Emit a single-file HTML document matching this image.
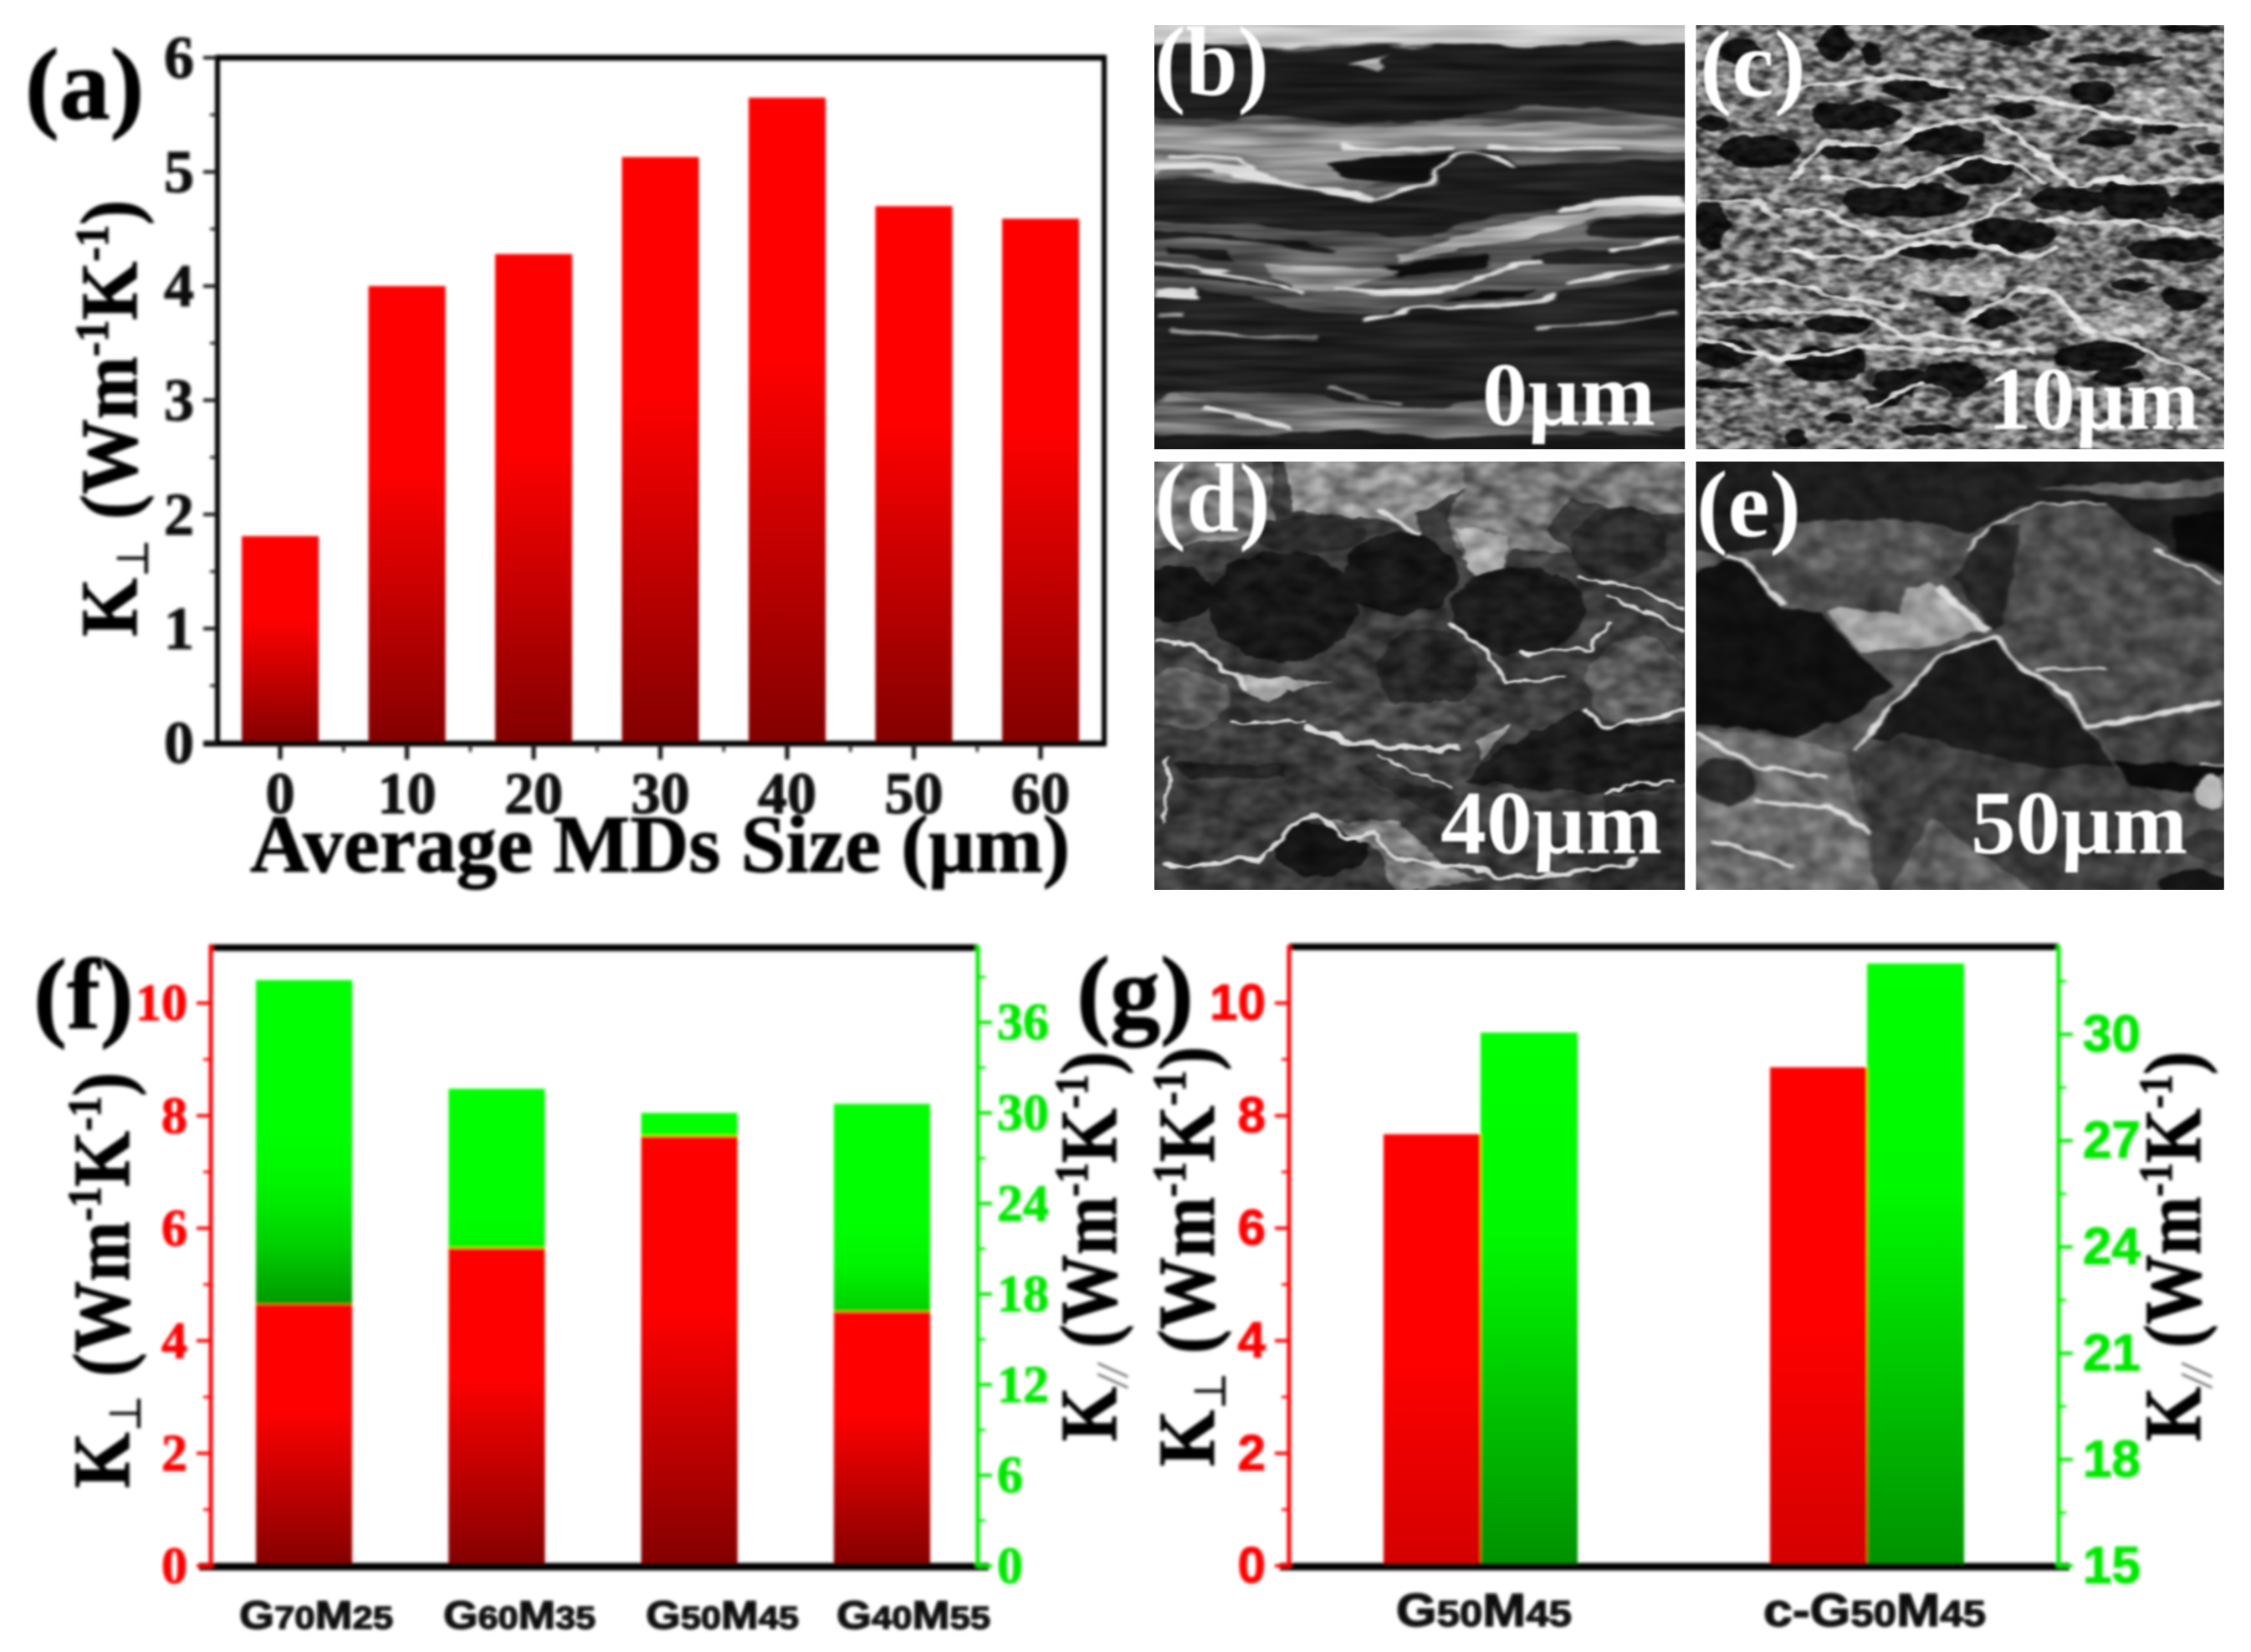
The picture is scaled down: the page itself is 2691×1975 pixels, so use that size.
<!DOCTYPE html>
<html lang="en">
<head>
<meta charset="utf-8">
<title>Thermal conductivity composite figure</title>
<style>
html,body{margin:0;padding:0;background:#fff;width:2691px;height:1975px;overflow:hidden}
svg{display:block}
.serif{font-family:"Liberation Serif","DejaVu Serif",serif;font-weight:700}
.sans{font-family:"Liberation Sans","DejaVu Sans",sans-serif;font-weight:700}
.lab{fill:#fff}
#charts text{stroke:#000;stroke-width:1.2px}
#charts tspan.thin{stroke:none}
</style>
</head>
<body>
<svg id="figure" xmlns="http://www.w3.org/2000/svg" width="2691" height="1975" viewBox="0 0 2691 1975">
<defs>
<filter id="soft" x="0" y="0" width="2691" height="1975" filterUnits="userSpaceOnUse"><feGaussianBlur stdDeviation="1.8"/></filter>
<filter id="softw" x="1370" y="20" width="1310" height="1060" filterUnits="userSpaceOnUse"><feGaussianBlur stdDeviation="1.3"/></filter>
<linearGradient id="red-deep" x1="0" y1="1" x2="0" y2="0"><stop offset="0" stop-color="#820000"/><stop offset=".6" stop-color="#ff0000"/><stop offset="1" stop-color="#ff0000"/></linearGradient>
<linearGradient id="red-light" x1="0" y1="1" x2="0" y2="0"><stop offset="0" stop-color="#d40000"/><stop offset=".5" stop-color="#ff0000"/><stop offset="1" stop-color="#ff0000"/></linearGradient>
<linearGradient id="green-stack" x1="0" y1="1" x2="0" y2="0"><stop offset="0" stop-color="#004800"/><stop offset=".45" stop-color="#009a00"/><stop offset=".55" stop-color="#00d000"/><stop offset=".65" stop-color="#00f400"/><stop offset=".74" stop-color="#00ff00"/><stop offset="1" stop-color="#00ff00"/></linearGradient>
<linearGradient id="green-side" x1="0" y1="1" x2="0" y2="0"><stop offset="0" stop-color="#009000"/><stop offset=".62" stop-color="#00f800"/><stop offset="1" stop-color="#00ff00"/></linearGradient>

<filter id="rough-b" x="0" y="0" width="1" height="1" color-interpolation-filters="sRGB"><feTurbulence type="fractalNoise" baseFrequency="0.004 0.02" numOctaves="3" seed="4" result="n"/><feDisplacementMap in="SourceGraphic" in2="n" scale="50" xChannelSelector="R" yChannelSelector="G"/><feGaussianBlur stdDeviation="5"/></filter>
<filter id="rough-c" x="0" y="0" width="1" height="1" color-interpolation-filters="sRGB"><feTurbulence type="fractalNoise" baseFrequency="0.012 0.02" numOctaves="3" seed="9" result="n"/><feDisplacementMap in="SourceGraphic" in2="n" scale="40" xChannelSelector="R" yChannelSelector="G"/><feGaussianBlur stdDeviation="4"/></filter>
<filter id="rough-d" x="0" y="0" width="1" height="1" color-interpolation-filters="sRGB"><feTurbulence type="fractalNoise" baseFrequency="0.015 0.015" numOctaves="3" seed="12" result="n"/><feDisplacementMap in="SourceGraphic" in2="n" scale="40" xChannelSelector="R" yChannelSelector="G"/><feGaussianBlur stdDeviation="4"/></filter>
<filter id="rough-e" x="0" y="0" width="1" height="1" color-interpolation-filters="sRGB"><feTurbulence type="fractalNoise" baseFrequency="0.012 0.012" numOctaves="3" seed="21" result="n"/><feDisplacementMap in="SourceGraphic" in2="n" scale="34" xChannelSelector="R" yChannelSelector="G"/><feGaussianBlur stdDeviation="5"/></filter>

<filter id="tex-b" x="0" y="0" width="1" height="1" color-interpolation-filters="sRGB"><feTurbulence type="fractalNoise" baseFrequency="0.003 0.03" numOctaves="2" seed="3"/><feColorMatrix values="1.8 0 0 0 -.4  1.8 0 0 0 -.4  1.8 0 0 0 -.4  0 0 0 0 1"/><feGaussianBlur stdDeviation="3"/></filter>
<filter id="tex-c" x="0" y="0" width="1" height="1" color-interpolation-filters="sRGB"><feTurbulence type="fractalNoise" baseFrequency="0.022 0.032" numOctaves="2" seed="7"/><feColorMatrix values="2.4 0 0 0 -.7  2.4 0 0 0 -.7  2.4 0 0 0 -.7  0 0 0 0 1"/><feGaussianBlur stdDeviation="3"/></filter>
<filter id="tex-d" x="0" y="0" width="1" height="1" color-interpolation-filters="sRGB"><feTurbulence type="fractalNoise" baseFrequency="0.014 0.018" numOctaves="2" seed="15"/><feColorMatrix values="1.8 0 0 0 -.4  1.8 0 0 0 -.4  1.8 0 0 0 -.4  0 0 0 0 1"/><feGaussianBlur stdDeviation="3"/></filter>
<filter id="tex-e" x="0" y="0" width="1" height="1" color-interpolation-filters="sRGB"><feTurbulence type="fractalNoise" baseFrequency="0.014 0.014" numOctaves="2" seed="25"/><feColorMatrix values="1.6 0 0 0 -.3  1.6 0 0 0 -.3  1.6 0 0 0 -.3  0 0 0 0 1"/><feGaussianBlur stdDeviation="3"/></filter>
<clipPath id="clip-b"><rect x="0" y="30" width="1530" height="1500"/></clipPath>
<clipPath id="clip-c"><rect x="18" y="30" width="1523" height="1500"/></clipPath>
<clipPath id="clip-d"><rect x="0" y="20" width="1530" height="1515"/></clipPath>
<clipPath id="clip-e"><rect x="18" y="20" width="1523" height="1515"/></clipPath>
</defs>
<rect width="2691" height="1975" fill="#fff"/>

<!-- SEM micrograph b -->
<svg x="1380" y="20" width="650" height="530" viewBox="0 0 1568 1568" preserveAspectRatio="none">
<g clip-path="url(#clip-b)">
<rect x="0" y="0" width="1568" height="1568" fill="#565656"/>
<g filter="url(#rough-b)">
<rect x="-20" y="10" width="1600" height="90" fill="#c4c4c4"/>
<path fill="#1d1d1d" d="M340,110L1560,90L1560,370C1200,300 1000,300 800,370L500,360L-20,350L-20,100Z"/>
<path fill="#8c8c8c" d="M-20,370L650,380L1560,390L1560,480L1050,480L980,470L850,480L600,620L400,600L120,560L-20,560Z"/>
<path fill="#101010" d="M490,520C600,490 800,490 860,490C820,560 780,590 640,590C600,580 520,560 490,520Z"/>
<path fill="#1f1f1f" d="M850,500L960,470L1050,520L1560,510L1560,630L1200,660L1000,700L800,780L500,760L-20,720L-20,580L130,570L350,590L620,650L800,590Z"/>
<g fill="none" stroke="#1a1a1a" stroke-width="22"><path d="M-20,770C200,770 400,790 500,820"/><path d="M40,840L220,855"/><path d="M-20,905C100,890 300,930 420,960"/><path d="M270,935L400,960"/><path d="M400,800L520,830"/></g>
<path fill="#a8a8a8" d="M700,840C850,810 1000,720 1200,690L1560,650L1560,680L1200,730C1100,770 1000,810 700,870Z"/>
<path fill="#1f1f1f" d="M1250,730L1560,700L1560,780L1250,780Z"/>
<path fill="#222" d="M1100,840L1560,800L1560,860L1100,880Z"/>
<path fill="#0f0f0f" d="M650,885C800,860 900,860 960,840L960,880L700,915Z"/>
<path fill="#909090" d="M300,880L700,900L520,980L400,960Z"/>
<path fill="#202020" d="M-20,1000L130,960L420,1030L580,1060L780,1020L830,1040L1000,1030L1180,970L1480,920L1560,850L1560,1500L1000,1340L800,1400L400,1330L50,1340L-20,1370Z"/>
<path fill="#0f0f0f" d="M880,1000L1100,960L1060,990L840,1020Z"/>
<g fill="none" stroke="#8a8a8a" stroke-width="12"><path d="M50,1110L470,1140"/><path d="M500,1310L720,1370"/><path d="M10,1055L80,1050"/></g>
<path fill="none" stroke="#adadad" stroke-width="12" d="M1100,1110C1250,1070 1350,1060 1510,1045"/>
<path fill="#6e6e6e" d="M-20,1390L50,1340C200,1380 400,1400 800,1390L1000,1400L1560,1380L1560,1450L1000,1480L400,1480L-20,1470Z"/>
<rect x="-20" y="1478" width="1600" height="70" fill="#181818"/>
<g fill="none" stroke="#dedede"><path stroke-width="16" d="M520,970L880,970C950,920 1000,880 1120,870"/><path stroke-width="16" d="M1180,940C1300,900 1400,890 1480,880"/><path stroke-width="12" d="M600,1075C700,1050 760,1020 830,1040C950,1040 1060,1010 1160,980"/><path stroke-width="22" d="M140,1380C250,1410 330,1430 400,1460"/><path stroke-width="24" d="M0,540C200,520 350,570 500,620L640,650"/><path stroke-width="12" d="M640,650C740,610 820,570 850,510C900,470 970,480 1040,530"/><path stroke-width="14" d="M40,490L240,500L300,560"/><path stroke-width="16" d="M540,460L700,470L860,470"/><path stroke-width="14" d="M970,460L1340,475"/><path stroke-width="10" d="M0,870C150,880 300,920 430,980"/><path stroke-width="30" d="M0,975L130,975"/><path stroke-width="14" d="M1320,825L1420,800L1520,780"/><path stroke-width="26" d="M1160,670L1520,650"/></g>
<path fill="#a9a9a9" d="M560,185L650,150L680,130L640,195Z"/>
</g>
<rect x="0" y="0" width="1568" height="1568" filter="url(#tex-b)" style="mix-blend-mode:overlay" opacity=".4"/>
</g>
</svg>

<!-- SEM micrograph c -->
<svg x="2020" y="20" width="650" height="530" viewBox="0 0 1568 1568" preserveAspectRatio="none">
<g clip-path="url(#clip-c)">
<rect x="0" y="0" width="1568" height="1568" fill="#747474"/>
<g filter="url(#rough-c)">
<g fill="#131313">
<ellipse cx="200" cy="475" rx="115" ry="55"/><ellipse cx="480" cy="350" rx="135" ry="50"/><ellipse cx="650" cy="260" rx="100" ry="40"/><ellipse cx="730" cy="435" rx="125" ry="50"/><ellipse cx="470" cy="480" rx="85" ry="30"/><ellipse cx="620" cy="650" rx="180" ry="62"/><ellipse cx="830" cy="540" rx="105" ry="50"/><ellipse cx="1100" cy="645" rx="110" ry="40"/><ellipse cx="1290" cy="650" rx="105" ry="75"/><ellipse cx="1480" cy="650" rx="90" ry="62"/><ellipse cx="930" cy="770" rx="125" ry="55"/><ellipse cx="720" cy="835" rx="115" ry="26"/><ellipse cx="60" cy="740" rx="55" ry="85"/><ellipse cx="920" cy="65" rx="115" ry="36"/><ellipse cx="530" cy="130" rx="30" ry="42"/><ellipse cx="420" cy="100" rx="50" ry="65"/><ellipse cx="1230" cy="150" rx="135" ry="22"/><ellipse cx="1160" cy="270" rx="60" ry="42"/><ellipse cx="1200" cy="430" rx="85" ry="30"/><ellipse cx="1350" cy="395" rx="55" ry="22"/><ellipse cx="940" cy="330" rx="65" ry="30"/><ellipse cx="1400" cy="825" rx="140" ry="42"/><ellipse cx="1280" cy="950" rx="70" ry="20"/><ellipse cx="100" cy="1190" rx="95" ry="52"/><ellipse cx="400" cy="1225" rx="115" ry="62"/><ellipse cx="620" cy="1295" rx="95" ry="50"/><ellipse cx="760" cy="1285" rx="95" ry="62"/><ellipse cx="1180" cy="1200" rx="130" ry="52"/><ellipse cx="1240" cy="1275" rx="75" ry="30"/><ellipse cx="430" cy="1090" rx="95" ry="30"/><ellipse cx="190" cy="1085" rx="110" ry="20"/><ellipse cx="880" cy="1065" rx="65" ry="30"/><ellipse cx="760" cy="1010" rx="52" ry="30"/><ellipse cx="560" cy="1345" rx="55" ry="32"/><ellipse cx="430" cy="1420" rx="52" ry="20"/><ellipse cx="700" cy="1462" rx="95" ry="20"/><ellipse cx="310" cy="1490" rx="30" ry="30"/><ellipse cx="100" cy="1305" rx="85" ry="20"/><ellipse cx="150" cy="120" rx="60" ry="50"/><ellipse cx="1440" cy="40" rx="90" ry="20"/><ellipse cx="1500" cy="465" rx="40" ry="20"/><ellipse cx="1430" cy="1000" rx="60" ry="40"/><ellipse cx="60" cy="380" rx="45" ry="30"/>
</g>
<ellipse cx="160" cy="800" rx="70" ry="70" fill="#6b6b6b"/>
<ellipse cx="1380" cy="300" rx="120" ry="55" fill="#9a9a9a"/>
<ellipse cx="1250" cy="1090" rx="140" ry="60" fill="#a0a0a0"/>
<ellipse cx="700" cy="1350" rx="60" ry="50" fill="#777"/>
<ellipse cx="760" cy="940" rx="150" ry="50" fill="#a5a5a5"/>
<g fill="none" stroke="#d4d4d4" stroke-width="16">
<path d="M280,580L400,450L550,460L720,370L880,370L1000,480L1110,600L1250,570"/>
<path d="M380,570L620,600L840,490L960,540L1030,600"/>
<path d="M270,680L380,680L500,760L640,780L850,720L960,600"/>
<path d="M20,1050L300,1040L500,1050L620,1130L900,1150"/>
<path d="M20,660L200,650L260,720"/>
<path d="M280,830L500,860L680,800L800,800L1000,850L1060,820"/>
<path d="M780,1080L960,960L1060,990L1140,1100L1300,1170L1500,1280"/>
<path d="M20,950L240,930L400,980L620,1030"/>
<path d="M20,1130L250,1210L500,1170L1000,1190"/>
<path d="M500,1390L680,1290"/><path d="M1000,720L1300,730L1540,790"/>
<path d="M860,270L1050,300L1300,370L1540,400"/>
<path d="M300,250L600,210L800,260"/>
<path d="M1150,590L1540,570"/>
</g>
</g>
<rect x="0" y="0" width="1568" height="1568" filter="url(#tex-c)" style="mix-blend-mode:overlay" opacity=".6"/>
</g>
</svg>

<!-- SEM micrograph d -->
<svg x="1380" y="545" width="650" height="530" viewBox="0 0 1568 1568" preserveAspectRatio="none">
<g clip-path="url(#clip-d)">
<rect x="0" y="0" width="1568" height="1568" fill="#3c3c3c"/>
<g filter="url(#rough-d)">
<path fill="#8e8e8e" d="M380,0L900,0L920,100L760,200L760,290L650,220L500,210L400,200Z"/>
<path fill="#747474" d="M-20,0L340,0L340,280L-20,330Z"/>
<path fill="#727272" d="M900,0L1560,0L1560,200L1400,210L1200,150L1130,260L1220,350L1030,330L1000,430L950,450L880,350L840,230L900,100Z"/>
<path fill="#a4a4a4" d="M870,250L1020,280L1010,430L950,455L890,360Z"/>
<ellipse cx="450" cy="280" rx="160" ry="65" fill="#2a2a2a"/>
<ellipse cx="370" cy="530" rx="215" ry="195" fill="#181818"/>
<ellipse cx="710" cy="420" rx="165" ry="145" fill="#171717"/>
<ellipse cx="1050" cy="550" rx="195" ry="155" fill="#1b1b1b"/>
<ellipse cx="1340" cy="310" rx="140" ry="130" fill="#2b2b2b"/>
<ellipse cx="790" cy="760" rx="145" ry="150" fill="#262626"/>
<ellipse cx="60" cy="490" rx="110" ry="100" fill="#151515"/>
<path fill="#4a4a4a" d="M640,870L900,870L1000,960L880,1050L620,1010L420,960L580,880Z"/>
<path fill="#a0a0a0" d="M190,740L250,780L520,800L380,830L330,870L250,830Z"/>
<path fill="#959595" d="M920,1010L1020,950L950,1080Z"/>
<ellipse cx="80" cy="860" rx="135" ry="105" fill="#585858"/>
<ellipse cx="1390" cy="800" rx="140" ry="160" fill="#585858"/>
<path fill="#1b1b1b" d="M1000,1040L1230,900L1300,960L1560,950L1560,1150L1300,1200L900,1150Z"/>
<ellipse cx="480" cy="1390" rx="135" ry="92" fill="#141414"/>
<path fill="#2a2a2a" d="M580,1100L880,1200L850,1290L700,1200Z"/>
<ellipse cx="210" cy="1210" rx="195" ry="130" fill="#383838"/>
<path fill="#222" d="M60,1090L380,1090L380,1140L100,1140Z"/>
<path fill="#2b2b2b" d="M1300,1210L1560,1170L1560,1550L1250,1550Z"/>
<path fill="#7c7c7c" d="M500,1290L700,1290L840,1450L950,1500L700,1550L640,1400Z"/>
<g fill="none" stroke="#d8d8d8">
<path stroke-width="12" d="M0,650L120,670L190,740L270,830"/>
<path stroke-width="18" d="M430,960C550,1010 650,1040 880,1040"/>
<path stroke-width="12" d="M850,590L960,690L1010,800L1180,780"/>
<path stroke-width="10" d="M1050,700C1100,720 1120,680 1250,680L1320,590"/>
<path stroke-width="14" d="M1240,890L1300,960L1540,900"/>
<path stroke-width="14" d="M30,1450L300,1430L370,1340L470,1270L550,1350L640,1340L700,1430L900,1450L1000,1490L1250,1470L1400,1430"/>
<path stroke-width="10" d="M1300,1200L1380,1160L1500,1150"/>
<path stroke-width="10" d="M1220,430L1400,470L1530,540"/>
<path stroke-width="10" d="M1310,490L1530,620"/>
<path stroke-width="10" d="M40,1060L30,1300"/>
<path stroke-width="10" d="M220,950L430,940"/>
<path stroke-width="8" d="M640,1060L860,1180"/>
<path stroke-width="16" d="M650,190L760,280"/>
</g>
</g>
<rect x="0" y="0" width="1568" height="1568" filter="url(#tex-d)" style="mix-blend-mode:overlay" opacity=".4"/>
</g>
</svg>

<!-- SEM micrograph e -->
<svg x="2020" y="545" width="650" height="530" viewBox="0 0 1568 1568" preserveAspectRatio="none">
<g clip-path="url(#clip-e)">
<rect x="0" y="0" width="1568" height="1568" fill="#4e4e4e"/>
<g filter="url(#rough-e)">
<path fill="#1e1e1e" d="M0,0L1568,0L1568,430L1400,350L1200,170L950,180L800,280L700,230L500,240L300,320L150,340L0,340Z"/>
<path fill="#626262" d="M1000,110L1560,80L1560,130L1300,150Z"/>
<path fill="#5a5a5a" d="M240,240L600,220L720,300L740,420L640,400L300,400Z"/>
<path fill="#111" d="M0,430L100,360L180,390L270,540L370,550L490,700L590,820L440,940L300,990L0,940Z"/>
<path fill="#4e4e4e" d="M760,430L860,250L1000,190L1200,190L1380,340L1568,450L1568,840L1150,940L1000,760L870,620Z"/>
<path fill="#262626" d="M760,430L860,250L960,240L900,600L870,620Z"/>
<path fill="#090909" d="M1380,220L1568,190L1568,420L1400,340Z"/>
<path fill="#a0a0a0" d="M390,550L700,450L850,620L680,680L490,690Z"/>
<path fill="#484848" d="M240,410L640,420L600,560L380,530Z"/>
<path fill="#1a1a1a" d="M750,680L880,650L1000,790L1150,970L1230,1100L1000,1130L520,1000L620,840Z"/>
<path fill="#3c3c3c" d="M480,1060L620,980L1000,1100L1230,1100L1400,1250L1300,1550L550,1550Z"/>
<path fill="#5e5e5e" d="M700,1280L1000,1550L570,1550Z"/>
<path fill="#404040" d="M1160,960L1568,890L1568,1100L1300,1110L1210,1050Z"/>
<path fill="#0c0c0c" d="M1230,1080L1568,1100L1470,1190L1280,1170Z"/>
<path fill="#6c6c6c" d="M0,960L300,1000L450,1060L550,1550L0,1550Z"/>
<ellipse cx="100" cy="1150" rx="90" ry="80" fill="#2c2c2c"/>
<ellipse cx="1500" cy="1190" rx="40" ry="60" fill="#bdbdbd"/>
<ellipse cx="1450" cy="1510" rx="100" ry="40" fill="#151515"/>
<ellipse cx="1500" cy="1380" rx="80" ry="60" fill="#333"/>
<g fill="none" stroke="#d8d8d8">
<path stroke-width="14" d="M100,350L180,390L270,530"/>
<path stroke-width="14" d="M880,640L960,750L1080,840L1150,960"/>
<path stroke-width="20" d="M1150,960L1540,870"/>
<path stroke-width="12" d="M480,1040L620,830L720,710L880,640"/>
<path stroke-width="24" d="M720,470L860,620"/>
<path stroke-width="8" d="M800,340L860,250L1000,170L1200,170"/>
<path stroke-width="10" d="M1340,330L1540,450"/>
<path stroke-width="14" d="M18,980L200,1100L400,1130"/>
<path stroke-width="10" d="M1000,760L1200,750"/>
<path stroke-width="14" d="M60,1360L300,1450"/>
<path stroke-width="14" d="M180,1220L400,1240L520,1330"/>
<path stroke-width="8" d="M1470,1095L1540,1095"/>
</g>
</g>
<rect x="0" y="0" width="1568" height="1568" filter="url(#tex-e)" style="mix-blend-mode:overlay" opacity=".35"/>
</g>
</svg>

<g filter="url(#softw)">
<text class="serif lab" x="1380" y="113" font-size="118" textLength="137" lengthAdjust="spacingAndGlyphs">(b)</text>
<text class="serif lab" x="2032" y="115" font-size="114" textLength="127" lengthAdjust="spacingAndGlyphs">(c)</text>
<text class="serif lab" x="1380" y="635" font-size="118" textLength="139" lengthAdjust="spacingAndGlyphs">(d)</text>
<text class="serif lab" x="2028" y="641" font-size="113" textLength="125" lengthAdjust="spacingAndGlyphs">(e)</text>
<text class="serif lab" x="1772" y="508" font-size="108" textLength="207" lengthAdjust="spacingAndGlyphs">0µm</text>
<text class="serif lab" x="2376" y="513" font-size="108" textLength="253" lengthAdjust="spacingAndGlyphs">10µm</text>
<text class="serif lab" x="1722" y="1020" font-size="108" textLength="265" lengthAdjust="spacingAndGlyphs">40µm</text>
<text class="serif lab" x="2356" y="1020" font-size="108" textLength="259" lengthAdjust="spacingAndGlyphs">50µm</text>
</g>

<g id="charts" filter="url(#soft)">
<text class="serif" x="30" y="142" font-size="122" fill="#000">(a)</text>
<text class="serif" x="40" y="1229" font-size="120" fill="#000">(f)</text>
<text class="serif" x="1287" y="1226" font-size="120" fill="#000">(g)</text>

<text class="serif" x="299" y="1042" font-size="98" textLength="980" lengthAdjust="spacingAndGlyphs" fill="#000">Average MDs Size (µm)</text>

<text class="serif" transform="translate(163,761) rotate(-90)" font-size="96" textLength="522" lengthAdjust="spacingAndGlyphs" fill="#000">K<tspan class="thin" dy="14" font-size="54" font-weight="400">⊥</tspan><tspan dy="-14"> (Wm</tspan><tspan dy="-34" font-size="56">-1</tspan><tspan dy="34">K</tspan><tspan dy="-34" font-size="56">-1</tspan><tspan dy="34">)</tspan></text>
<text class="serif" transform="translate(154,1779) rotate(-90)" font-size="96" textLength="497" lengthAdjust="spacingAndGlyphs" fill="#000">K<tspan class="thin" dy="14" font-size="54" font-weight="400">⊥</tspan><tspan dy="-14"> (Wm</tspan><tspan dy="-34" font-size="56">-1</tspan><tspan dy="34">K</tspan><tspan dy="-34" font-size="56">-1</tspan><tspan dy="34">)</tspan></text>
<text class="serif" transform="translate(1334,1723) rotate(-90)" font-size="96" textLength="466" lengthAdjust="spacingAndGlyphs" fill="#000">K<tspan class="thin" dy="14" font-size="54" font-style="italic" font-weight="400" fill="#555">//</tspan><tspan dy="-14"> (Wm</tspan><tspan dy="-34" font-size="56">-1</tspan><tspan dy="34">K</tspan><tspan dy="-34" font-size="56">-1</tspan><tspan dy="34">)</tspan></text>
<text class="serif" transform="translate(1451,1753) rotate(-90)" font-size="96" textLength="502" lengthAdjust="spacingAndGlyphs" fill="#000">K<tspan class="thin" dy="14" font-size="54" font-weight="400">⊥</tspan><tspan dy="-14"> (Wm</tspan><tspan dy="-34" font-size="56">-1</tspan><tspan dy="34">K</tspan><tspan dy="-34" font-size="56">-1</tspan><tspan dy="34">)</tspan></text>
<text class="serif" transform="translate(2630,1723) rotate(-90)" font-size="96" textLength="466" lengthAdjust="spacingAndGlyphs" fill="#000">K<tspan class="thin" dy="14" font-size="54" font-style="italic" font-weight="400" fill="#555">//</tspan><tspan dy="-14"> (Wm</tspan><tspan dy="-34" font-size="56">-1</tspan><tspan dy="34">K</tspan><tspan dy="-34" font-size="56">-1</tspan><tspan dy="34">)</tspan></text>

<text class="sans" x="286" y="1947" font-size="47" textLength="184" lengthAdjust="spacingAndGlyphs" fill="#111">G<tspan font-size="38">70</tspan>M<tspan font-size="38">25</tspan></text>
<text class="sans" x="530" y="1947" font-size="47" textLength="182" lengthAdjust="spacingAndGlyphs" fill="#111">G<tspan font-size="38">60</tspan>M<tspan font-size="38">35</tspan></text>
<text class="sans" x="772" y="1947" font-size="47" textLength="183" lengthAdjust="spacingAndGlyphs" fill="#111">G<tspan font-size="38">50</tspan>M<tspan font-size="38">45</tspan></text>
<text class="sans" x="1000" y="1947" font-size="47" textLength="184" lengthAdjust="spacingAndGlyphs" fill="#111">G<tspan font-size="38">40</tspan>M<tspan font-size="38">55</tspan></text>
<text class="sans" x="1669" y="1944" font-size="56" textLength="210" lengthAdjust="spacingAndGlyphs" fill="#111">G<tspan font-size="44">50</tspan>M<tspan font-size="44">45</tspan></text>
<text class="sans" x="2108" y="1944" font-size="56" textLength="266" lengthAdjust="spacingAndGlyphs" fill="#111">c-G<tspan font-size="44">50</tspan>M<tspan font-size="44">45</tspan></text>
</g>

<script>
// Panel (a)
const aCategories = ["0", "10", "20", "30", "40", "50", "60"];
const aValues = [1.81, 4.0, 4.28, 5.13, 5.65, 4.70, 4.59];
const aYTicks = ["0", "1", "2", "3", "4", "5", "6"];
// Panel (f)
const fCategories = ["G70M25", "G60M35", "G50M45", "G40M55"];
const fPerpValues = [4.65, 5.65, 7.64, 4.52];
const fParaValues = [38.8, 31.6, 30.0, 30.6];
const fLeftTicks = ["0", "2", "4", "6", "8", "10"];
const fRightTicks = ["0", "6", "12", "18", "24", "30", "36"];
// Panel (g)
const gCategories = ["G50M45", "c-G50M45"];
const gPerpValues = [7.67, 8.86];
const gParaValues = [30.05, 32.0];
const gLeftTicks = ["0", "2", "4", "6", "8", "10"];
const gRightTicks = ["15", "18", "21", "24", "27", "30"];

const SVGNS = "http://www.w3.org/2000/svg";
const layer = document.getElementById("charts");

function linear(d0, d1, r0, r1) {
  return function (v) { return r0 + (v - d0) * (r1 - r0) / (d1 - d0); };
}
function make(tag, attrs) {
  const n = document.createElementNS(SVGNS, tag);
  for (const k in attrs) n.setAttribute(k, attrs[k]);
  layer.appendChild(n);
  return n;
}
function frameLine(x1, y1, x2, y2, color, width, name) {
  const l = make("line", { x1: x1, y1: y1, x2: x2, y2: y2, stroke: color, "stroke-width": width });
  
  
}
function yTicks(labels, scale, domainMax, axisX, side, color, minorStep, fontClass, fontSize, labelX, anchor, prefix) {
  const dir = side === "left" ? -1 : 1;
  labels.forEach(function (lab) {
    const v = parseFloat(lab);
    const y = scale(v);
    const t = make("line", { x1: axisX, x2: axisX + dir * 17, y1: y, y2: y, stroke: color, "stroke-width": 4 });
    
    
    const txt = make("text", { x: labelX, y: y + fontSize * 0.33, "text-anchor": anchor, fill: color, "font-size": fontSize, class: fontClass, style: "stroke:" + color });
    txt.textContent = lab;
    
    
  });
  const nums = labels.map(parseFloat);
  for (let m = nums[0] + minorStep; m < domainMax; m += 2 * minorStep) {
    const ym = scale(m);
    const mt = make("line", { x1: axisX, x2: axisX + dir * 9, y1: ym, y2: ym, stroke: color, "stroke-width": 3 });
    
    
  }
}
function bar(cx, w, value, scale, fill, name) {
  const top = scale(value);
  const base = scale.base;
  const r = make("rect", { x: cx - w / 2, y: top, width: w, height: base - top, fill: fill });
  
  
}

// ----- panel a -----
(function () {
  const y = linear(0, 6, 888, 69);
  y.base = 888;
  const x = function (i) { return 335 + i * 151.5; };
  aValues.forEach(function (v, i) {
    bar(x(i), 92, v, y, "url(#red-deep)", "a-bar-" + aCategories[i]);
  });
  frameLine(258, 69, 1322, 69, "#000", 7, "a-top-axis");
  frameLine(260, 66, 260, 892, "#000", 6, "a-left-axis");
  frameLine(1320, 66, 1320, 892, "#000", 6, "a-right-axis");
  frameLine(243, 889, 1322, 889, "#000", 7, "a-bottom-axis");
  yTicks(aYTicks, y, 6, 260, "left", "#111", 0.5, "serif", 72, 232, "end", "a-y");
  aCategories.forEach(function (c, i) {
    const t = make("line", { x1: x(i), x2: x(i), y1: 889, y2: 908, stroke: "#111", "stroke-width": 5 });
    
    
    if (i < aCategories.length - 1) {
      const m = make("line", { x1: x(i + 0.5), x2: x(i + 0.5), y1: 889, y2: 899, stroke: "#111", "stroke-width": 3 });
      
      
    }
    const txt = make("text", { x: x(i), y: 972, "text-anchor": "middle", "font-size": 70, fill: "#111", class: "serif" });
    txt.textContent = c;
    
    
  });
})();

// ----- panel f -----
(function () {
  const yL = linear(0, 11, 1872, 1132);
  yL.base = 1872;
  const yR = linear(0, 41, 1872, 1132);
  yR.base = 1872;
  const x = function (i) { return 363.5 + i * 230.3; };
  fCategories.forEach(function (c, i) {
    bar(x(i), 115, fParaValues[i], yR, "url(#green-stack)", "f-parallel-bar-" + c);
    bar(x(i), 115, fPerpValues[i], yL, "url(#red-deep)", "f-perpendicular-bar-" + c);
  });
  frameLine(250, 1133, 1169, 1133, "#000", 8, "f-top-axis");
  frameLine(238, 1873, 1182, 1873, "#000", 9, "f-bottom-axis");
  frameLine(252, 1130, 252, 1873, "#ff0000", 5, "f-left-axis");
  frameLine(1169, 1130, 1169, 1873, "#00ee00", 5, "f-right-axis");
  yTicks(fLeftTicks, yL, 11, 252, "left", "#ff0000", 1, "serif", 62, 224, "end", "f-left-y");
  yTicks(fRightTicks, yR, 41, 1169, "right", "#00e800", 3, "serif", 62, 1192, "start", "f-right-y");
})();

// ----- panel g -----
(function () {
  const yL = linear(0, 11, 1872, 1132);
  yL.base = 1872;
  const yR = linear(15, 32.47, 1872, 1132);
  yR.base = 1872;
  const x = function (i) { return 1770 + i * 462; };
  gCategories.forEach(function (c, i) {
    bar(x(i) - 58, 116, gPerpValues[i], yL, "url(#red-light)", "g-perpendicular-bar-" + c);
    bar(x(i) + 58, 116, gParaValues[i], yR, "url(#green-side)", "g-parallel-bar-" + c);
  });
  frameLine(1541, 1132, 2461, 1132, "#000", 8, "g-top-axis");
  frameLine(1530, 1873, 2474, 1873, "#000", 9, "g-bottom-axis");
  frameLine(1541, 1130, 1541, 1873, "#ff0000", 5, "g-left-axis");
  frameLine(2461, 1130, 2461, 1873, "#00ee00", 5, "g-right-axis");
  yTicks(gLeftTicks, yL, 11, 1541, "left", "#ff0000", 1, "sans", 60, 1513, "end", "g-left-y");
  yTicks(gRightTicks, yR, 32.47, 2461, "right", "#00e800", 1.5, "sans", 62, 2490, "start", "g-right-y");
})();
</script>
</svg>
</body>
</html>
